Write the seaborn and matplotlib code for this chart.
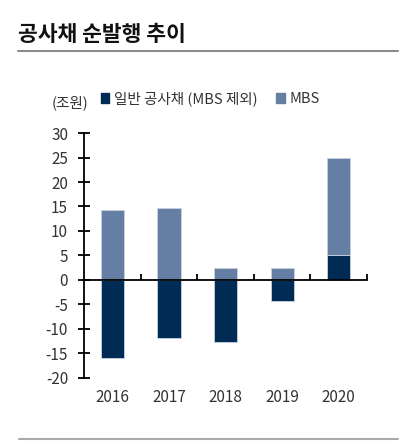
import numpy as np
import pandas as pd
import seaborn as sns
import matplotlib.pyplot as plt
from matplotlib.lines import Line2D
from matplotlib.ticker import FixedLocator

sns.set_theme(style="white")
plt.rcParams['font.family'] = ['Noto Sans CJK KR', 'DejaVu Sans']

years = ['2016', '2017', '2018', '2019', '2020']
general = [-15.9, -11.9, -12.6, -4.2, 5.2]   # 일반 공사채 (MBS 제외)
mbs = [14.3, 14.7, 2.4, 2.4, 19.8]
yticks = [-20, -15, -10, -5, 0, 5, 10, 15, 20, 25, 30]

dark = '#002b55'
light = '#647fa3'

df = pd.DataFrame({'year': years, 'general': general, 'mbs': mbs})
# MBS sits on top of positive general issuance only
mbs_bottom = np.clip(df['general'].values, 0, None)

fig = plt.figure(figsize=(4.19, 4.41), dpi=100)
ax = fig.add_axes([0.2005, 0.1429, 0.6755, 0.5555])

sns.barplot(data=df, x='year', y='general', color=dark, width=0.41,
            edgecolor='#c8d2e0', linewidth=0.6, saturation=1, ax=ax)
sns.barplot(data=df, x='year', y='mbs', color=light, width=0.41,
            bottom=mbs_bottom, edgecolor='#c8d2e0', linewidth=0.6,
            saturation=1, ax=ax)

ax.set_xlim(-0.5, 4.5)
ax.set_ylim(-20, 30)
ax.set_yticks(yticks)
ax.set_yticklabels([str(t) for t in yticks])
ax.set_xlabel('')
ax.set_ylabel('')

for s in ['top', 'right']:
    ax.spines[s].set_visible(False)
ax.spines['left'].set_color('black')
ax.spines['left'].set_linewidth(1.3)
ax.spines['bottom'].set_position(('data', 0))
ax.spines['bottom'].set_color('black')
ax.spines['bottom'].set_linewidth(1.3)

ax.tick_params(axis='y', direction='inout', length=9, width=1.3, color='black',
               labelsize=11, labelcolor='#333333', pad=7, left=True)
ax.set_xticks(range(len(years)))
ax.set_xticklabels([])
ax.tick_params(axis='x', which='major', length=0)
ax.xaxis.set_minor_locator(FixedLocator([0.5, 1.5, 2.5, 3.5, 4.5]))
ax.tick_params(axis='x', which='minor', direction='in', length=4, width=1.3,
               color='black', bottom=True)

sec = ax.secondary_xaxis('bottom')
sec.set_xticks(range(len(years)))
sec.set_xticklabels(years)
sec.tick_params(length=0, labelsize=11, labelcolor='#333333', pad=8)
sec.spines['bottom'].set_visible(False)

# title and rules
fig.text(0.043, 0.921, '공사채 순발행 추이', fontsize=15.5, fontweight='bold',
         color='#111111', va='center', ha='left')
fig.add_artist(Line2D([0.043, 0.950], [0.884, 0.884], color='#8c8c8c', lw=1.5))
fig.add_artist(Line2D([0.045, 0.950], [0.004, 0.004], color='#aaaaaa', lw=1.5))

fig.text(0.124, 0.766, '(조원)', fontsize=10.5, color='#333333', va='center', ha='left')

handles = [plt.Rectangle((0, 0), 1, 1, color=dark),
           plt.Rectangle((0, 0), 1, 1, color=light)]
fig.legend(handles, ['일반 공사채 (MBS 제외)', 'MBS'], loc='center left',
           bbox_to_anchor=(0.24, 0.776), ncol=2, frameon=False, fontsize=10.5,
           handlelength=0.6, handleheight=0.6, handletextpad=0.3,
           columnspacing=1.3, labelcolor='#333333', borderpad=0, borderaxespad=0)

fig.savefig('out.png', dpi=100)
